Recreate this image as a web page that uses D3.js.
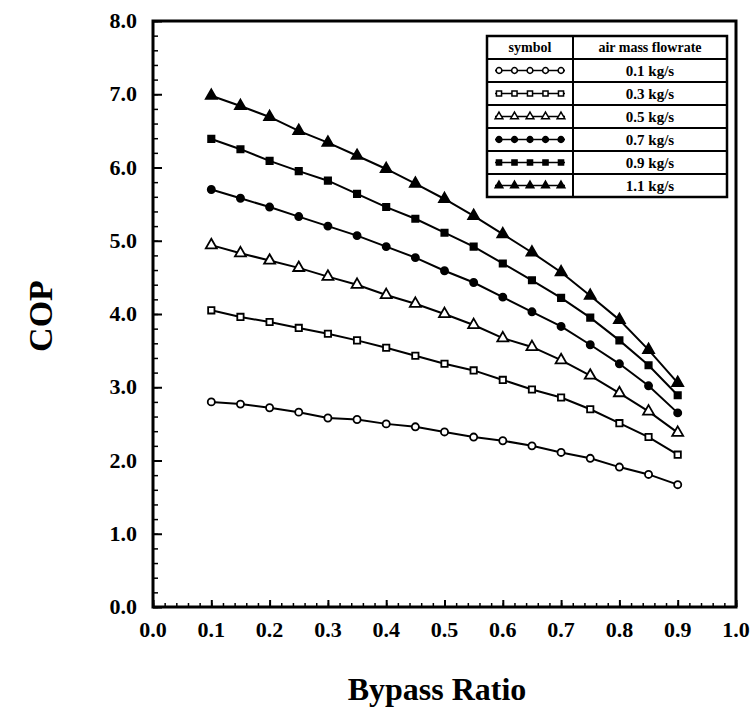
<!DOCTYPE html>
<html>
<head>
<meta charset="utf-8">
<script src="https://cdn.jsdelivr.net/npm/d3@7"></script>
<style>
body { margin: 0; background: #fff; }
text { font-family: "Liberation Serif", "Times New Roman", serif; font-weight: bold; fill: #000; }
</style>
</head>
<body>
<div id="chart"></div>
<script>
// data
var bypass = [0.1, 0.15, 0.2, 0.25, 0.3, 0.35, 0.4, 0.45, 0.5, 0.55, 0.6, 0.65, 0.7, 0.75, 0.8, 0.85, 0.9];
var flowLabels = ['0.1 kg/s', '0.3 kg/s', '0.5 kg/s', '0.7 kg/s', '0.9 kg/s', '1.1 kg/s'];
var cop01 = [2.80, 2.77, 2.72, 2.66, 2.58, 2.56, 2.50, 2.46, 2.39, 2.32, 2.27, 2.20, 2.11, 2.03, 1.91, 1.81, 1.67];
var cop03 = [4.05, 3.96, 3.89, 3.81, 3.73, 3.64, 3.54, 3.43, 3.32, 3.23, 3.10, 2.97, 2.86, 2.70, 2.51, 2.32, 2.08];
var cop05 = [4.94, 4.83, 4.73, 4.63, 4.51, 4.40, 4.26, 4.14, 4.00, 3.85, 3.67, 3.55, 3.37, 3.16, 2.92, 2.67, 2.38];
var cop07 = [5.70, 5.58, 5.46, 5.33, 5.20, 5.07, 4.92, 4.77, 4.59, 4.43, 4.23, 4.03, 3.83, 3.58, 3.32, 3.02, 2.65];
var cop09 = [6.39, 6.25, 6.09, 5.95, 5.82, 5.64, 5.46, 5.30, 5.11, 4.92, 4.69, 4.46, 4.22, 3.95, 3.64, 3.30, 2.89];
var cop11 = [6.98, 6.84, 6.69, 6.50, 6.34, 6.16, 5.98, 5.78, 5.57, 5.34, 5.09, 4.84, 4.57, 4.25, 3.92, 3.51, 3.06];
var xTicks = [0, 0.1, 0.2, 0.3, 0.4, 0.5, 0.6, 0.7, 0.8, 0.9, 1.0];
var yTicks = [0, 1, 2, 3, 4, 5, 6, 7, 8];

var series = [cop01, cop03, cop05, cop07, cop09, cop11];
var shapes = [d3.symbolCircle, d3.symbolSquare, d3.symbolTriangle, d3.symbolCircle, d3.symbolSquare, d3.symbolTriangle];
var filled = [false, false, false, true, true, true];

var width = 755, height = 709,
	margin = {top: 21, right: 19, bottom: 102, left: 153};

var svg = d3.select('#chart').append('svg')
	.attr('width', width)
	.attr('height', height);

var x = d3.scaleLinear().domain([0, 1]).range([margin.left, width - margin.right]);
var y = d3.scaleLinear().domain([0, 8]).range([height - margin.bottom, margin.top]);

// frame
svg.append('rect')
	.attr('x', x(0)).attr('y', y(8))
	.attr('width', x(1) - x(0)).attr('height', y(0) - y(8))
	.attr('fill', 'none').attr('stroke', '#000').attr('stroke-width', 3);

// bottom axis, ticks pointing inward
var xMinor = d3.range(0, 1.0001, 0.02);
svg.append('g')
	.attr('transform', 'translate(0,' + y(0) + ')')
	.call(d3.axisTop(x).tickValues(xMinor).tickSize(4).tickFormat(''))
	.call(function(g){ g.select('.domain').remove(); g.selectAll('line').attr('stroke-width', 1.5); });
svg.append('g')
	.attr('transform', 'translate(0,' + y(0) + ')')
	.call(d3.axisTop(x).tickValues(xTicks).tickSize(7).tickFormat(''))
	.call(function(g){ g.select('.domain').remove(); g.selectAll('line').attr('stroke-width', 2); });
svg.append('g').selectAll('text').data(xTicks).enter().append('text')
	.attr('x', function(d){ return x(d); })
	.attr('y', y(0) + 30)
	.attr('text-anchor', 'middle')
	.style('font-size', '22px')
	.text(function(d){ return d.toFixed(1); });

// left axis
var yMinor = d3.range(0, 8.0001, 0.2);
svg.append('g')
	.attr('transform', 'translate(' + x(0) + ',0)')
	.call(d3.axisRight(y).tickValues(yMinor).tickSize(5).tickFormat(''))
	.call(function(g){ g.select('.domain').remove(); g.selectAll('line').attr('stroke-width', 1.5); });
svg.append('g')
	.attr('transform', 'translate(' + x(0) + ',0)')
	.call(d3.axisRight(y).tickValues(yTicks).tickSize(9).tickFormat(''))
	.call(function(g){ g.select('.domain').remove(); g.selectAll('line').attr('stroke-width', 2); });
svg.append('g').selectAll('text').data(yTicks).enter().append('text')
	.attr('x', x(0) - 16)
	.attr('y', function(d){ return y(d) + 7; })
	.attr('text-anchor', 'end')
	.style('font-size', '22px')
	.text(function(d){ return d.toFixed(1); });

// axis titles
svg.append('text')
	.attr('transform', 'translate(52,' + 316 + ') rotate(-90)')
	.attr('text-anchor', 'middle')
	.style('font-size', '34px')
	.text('COP');
svg.append('text')
	.attr('x', 437).attr('y', 700)
	.attr('text-anchor', 'middle')
	.style('font-size', '32px')
	.text('Bypass Ratio');

// curves
var line = d3.line()
	.x(function(d, i){ return x(bypass[i]); })
	.y(function(d){ return y(d); });

series.forEach(function(s, k){
	var g = svg.append('g');
	g.append('path').datum(s)
		.attr('d', line)
		.attr('fill', 'none').attr('stroke', '#000').attr('stroke-width', 2);
	g.selectAll('path.pt').data(s).enter().append('path')
		.classed('pt', true)
		.attr('transform', function(d, i){ return 'translate(' + x(bypass[i]) + ',' + y(d) + ')'; })
		.attr('d', d3.symbol().type(shapes[k]).size(shapes[k] === d3.symbolTriangle ? 52 : 40))
		.attr('fill', filled[k] ? '#000' : '#fff')
		.attr('stroke', '#000').attr('stroke-width', 1.8);
});

// legend table
var lx = 487, ly = 36, lw = 240, rowH = 23, divX = 573;
var leg = svg.append('g');
leg.append('rect')
	.attr('x', lx).attr('y', ly).attr('width', lw).attr('height', rowH * 7)
	.attr('fill', '#fff').attr('stroke', '#000').attr('stroke-width', 2.5);
d3.range(1, 7).forEach(function(r){
	leg.append('line')
		.attr('x1', lx).attr('x2', lx + lw)
		.attr('y1', ly + r * rowH).attr('y2', ly + r * rowH)
		.attr('stroke', '#000').attr('stroke-width', 2);
});
leg.append('line')
	.attr('x1', divX).attr('x2', divX).attr('y1', ly).attr('y2', ly + rowH * 7)
	.attr('stroke', '#000').attr('stroke-width', 2);
leg.append('text').attr('x', (lx + divX) / 2).attr('y', ly + 16)
	.attr('text-anchor', 'middle').style('font-size', '14px').text('symbol');
leg.append('text').attr('x', (divX + lx + lw) / 2).attr('y', ly + 16)
	.attr('text-anchor', 'middle').style('font-size', '14px').text('air mass flowrate');

flowLabels.forEach(function(lab, k){
	var cy = ly + (k + 1) * rowH + rowH / 2;
	leg.append('text').attr('x', (divX + lx + lw) / 2).attr('y', cy + 5)
		.attr('text-anchor', 'middle').style('font-size', '15px').text(lab);
	leg.append('line').attr('x1', lx + 8).attr('x2', divX - 8).attr('y1', cy).attr('y2', cy)
		.attr('stroke', '#000').attr('stroke-width', 1.5);
	leg.selectAll('path.lm' + k).data(d3.range(5)).enter().append('path')
		.attr('transform', function(d){ return 'translate(' + (lx + 12 + d * 15.5) + ',' + cy + ')'; })
		.attr('d', d3.symbol().type(shapes[k]).size(26))
		.attr('fill', filled[k] ? '#000' : '#fff')
		.attr('stroke', '#000').attr('stroke-width', 1.5);
});
</script>
</body>
</html>
